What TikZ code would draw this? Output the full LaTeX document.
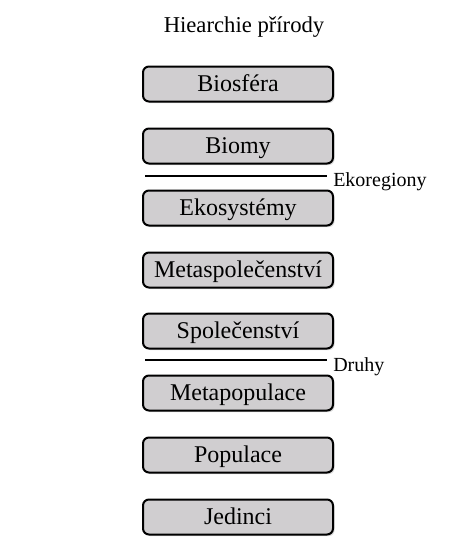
\documentclass[tikz,border=0pt]{standalone}
\usepackage{fontspec}
\setmainfont{Liberation Serif}
\usetikzlibrary{positioning,shadows}
\definecolor{boxgray}{RGB}{208,206,208}

\begin{document}
\begin{tikzpicture}[x=0.75pt, y=-0.75pt]
    % Define styles
    \tikzset{
        level/.style={draw, line width=1.5pt, fill=boxgray, rounded corners=4.5pt, minimum width=142.5pt, minimum height=26.25pt, inner sep=0pt, text height=11.9pt, text depth=0pt, font=\fontsize{18}{20}\selectfont, drop shadow={shadow xshift=1.2pt, shadow yshift=-1.2pt, fill=black!25, opacity=0.6}},
        divider/.style={line width=1.3pt},
        tag/.style={anchor=base west, inner sep=0pt, font=\fontsize{15}{17}\selectfont},
        heading/.style={anchor=base, inner sep=0pt, font=\fontsize{17}{19}\selectfont}
    }
    \useasboundingbox (0,0) rectangle (464,557);

    % Title
    \node[heading] (title) at (244,32) {Hiearchie přírody};

    % Levels of the hierarchy
    \node[level] (bio) at (238,84) {Biosféra};
    \node[level] (biomy) at (238,146) {Biomy};
    \node[level] (eko) at (238,208) {Ekosystémy};
    \node[level] (metaspol) at (238,270) {Metaspolečenství};
    \node[level] (spol) at (238,331) {Společenství};
    \node[level] (metapop) at (238,393) {Metapopulace};
    \node[level] (pop) at (238,455) {Populace};
    \node[level] (jed) at (238,517) {Jedinci};

    % Divider: Ekoregiony
    \coordinate (ekoL) at (145,176);
    \coordinate (ekoR) at (327,176);
    \draw[divider] (ekoL) -- (ekoR);
    \node[tag] (ekoreg) at (333,186) {Ekoregiony};

    % Divider: Druhy
    \coordinate (druL) at (145,360);
    \coordinate (druR) at (327,360);
    \draw[divider] (druL) -- (druR);
    \node[tag] (druhy) at (333,371) {Druhy};

\end{tikzpicture}
\end{document}
